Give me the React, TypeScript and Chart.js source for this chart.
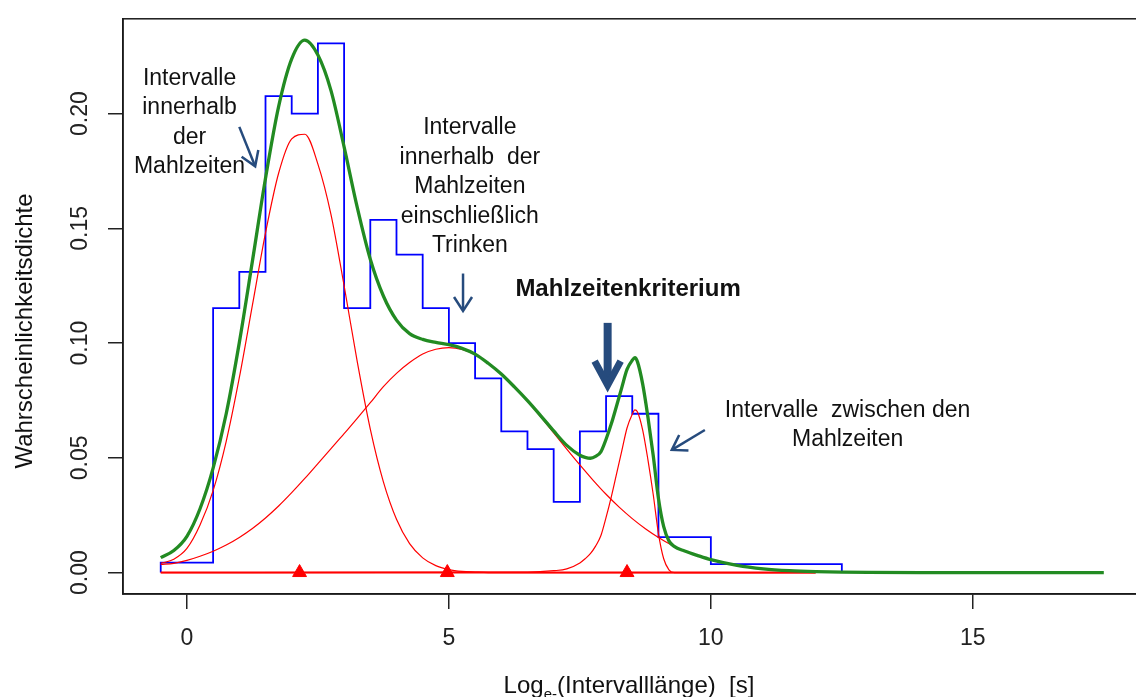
import { useEffect, useRef } from 'react';
import { Chart, registerables } from 'chart.js';

Chart.register(...registerables);

// Histogram of log-transformed interval lengths (bin edges and densities)
const histEdges = [-0.5, 0.5, 1.0, 1.5, 2.0, 2.5, 3.0, 3.5, 4.0, 4.5, 5.0, 5.5, 6.0, 6.5, 7.0, 7.5, 8.0, 8.5, 9.0, 10.0, 12.5];
const histDensity = [0.0043, 0.1152, 0.1310, 0.2076, 0.2000, 0.2306, 0.1152, 0.1537, 0.1385, 0.1152, 0.1000, 0.0846, 0.0615, 0.0538, 0.0308, 0.0615, 0.0769, 0.0692, 0.0154, 0.0037];

// Shared x grid for the first two mixture components
const componentX = [
  -0.5, -0.25, 0, 0.25, 0.5, 0.75, 1.0, 1.25, 1.5, 1.75, 2.0, 2.25, 2.5, 2.75, 3.0, 3.25, 3.5, 3.75,
  4.0, 4.25, 4.5, 4.75, 5.0, 5.25, 5.5, 5.75, 6.0, 6.25, 6.5, 6.75, 7.0, 7.25, 7.5, 7.75, 8.0, 8.25,
  8.5, 8.75, 9.0, 9.25, 9.5, 9.75, 10.0, 10.5, 11.0, 11.5, 12.0,
];
// Component 1: intervals within meals
const withinMeals = [
  0.0040, 0.0058, 0.0105, 0.0207, 0.0357, 0.0572, 0.0849, 0.1165, 0.1480, 0.1740, 0.1890, 0.1910, 0.1780, 0.1560, 0.1250, 0.0920, 0.0625, 0.0395,
  0.0232, 0.0126, 0.0064, 0.0030, 0.0013, 0.0005, 0.0002, 0, 0, 0, 0, 0, 0, 0, 0, 0, 0, 0,
  0, 0, 0, 0, 0, 0, 0, 0, 0, 0, 0,
];
// Component 2: intervals within meals including drinking
const withDrinking = [
  0.0035, 0.0040, 0.0053, 0.0071, 0.0093, 0.0120, 0.0153, 0.0192, 0.0238, 0.0290, 0.0348, 0.0410, 0.0475, 0.0540, 0.0605, 0.0672, 0.0740, 0.0810,
  0.0868, 0.0915, 0.0952, 0.0973, 0.0980, 0.0972, 0.0950, 0.0912, 0.0865, 0.0809, 0.0747, 0.0679, 0.0609, 0.0538, 0.0469, 0.0403, 0.0341, 0.0285,
  0.0235, 0.0191, 0.0153, 0.0120, 0.0094, 0.0072, 0.0055, 0.0030, 0.0015, 0.0008, 0.0004,
];
// Component 3: intervals between meals
const betweenX = [-0.5, 6.5, 7.0, 7.25, 7.5, 7.6, 7.7, 7.8, 7.9, 8.0, 8.1, 8.2, 8.3, 8.4, 8.5, 8.55, 8.6, 8.7, 8.8, 8.9, 9.0, 9.1, 9.2, 9.3, 12.0];
const betweenMeals = [0, 0.0002, 0.0008, 0.0016, 0.0042, 0.0060, 0.0082, 0.0115, 0.0160, 0.0240, 0.0330, 0.0430, 0.0530, 0.0630, 0.0690, 0.0709, 0.0700, 0.0620, 0.0490, 0.0340, 0.0170, 0.0060, 0.0012, 0, 0];

// Fitted mixture density
const mixtureX = [
  -0.5, -0.25, 0, 0.25, 0.5, 0.75, 1.0, 1.25, 1.5, 1.75, 2.0, 2.25, 2.5, 2.75, 3.0, 3.25, 3.5, 3.75,
  4.0, 4.25, 4.5, 4.75, 5.0, 5.25, 5.5, 5.75, 6.0, 6.25, 6.5, 6.75, 7.0, 7.25, 7.5,
  7.6, 7.7, 7.8, 7.9, 8.0, 8.1, 8.2, 8.3, 8.4, 8.5, 8.55, 8.6, 8.7, 8.8, 8.9, 9.0, 9.1, 9.2, 9.3,
  9.5, 9.75, 10.0, 10.5, 11.0, 11.5, 12.0, 12.5, 13.0, 14.0, 17.5,
];
const mixtureDensity = [
  0.0065, 0.0096, 0.0158, 0.0278, 0.0455, 0.0692, 0.1002, 0.1357, 0.1718, 0.2030, 0.2238, 0.2320, 0.2255, 0.2100, 0.1855, 0.1592, 0.1365, 0.1205,
  0.1100, 0.1041, 0.1016, 0.1003, 0.0993, 0.0977, 0.0952, 0.0912, 0.0865, 0.0809, 0.0749, 0.0684, 0.0617, 0.0554, 0.0511,
  0.0502, 0.0498, 0.0506, 0.0526, 0.0581, 0.0648, 0.0726, 0.0806, 0.0885, 0.0925, 0.0936, 0.0918, 0.0820, 0.0676, 0.0510, 0.0323, 0.0200, 0.0138, 0.0114,
  0.0094, 0.0074, 0.0056, 0.0031, 0.0016, 0.0008, 0.0004, 0.0002, 0.0001, 0, 0,
];

// Component means (triangles) and the zero line under the components
const componentMeans = [2.15, 4.97, 8.40];
const zeroLineX = [-0.5, 12.0];

const xTicks = [0, 5, 10, 15];
const yTicks = [0, 0.05, 0.1, 0.15, 0.2];

const FONT = '"Liberation Sans", Arial, Helvetica, sans-serif';
const ARROW = '#264b7d';

const notes = [
  { x: 0.05, y: 0.2125, lines: ['Intervalle', 'innerhalb', 'der', 'Mahlzeiten'], bold: false },
  { x: 5.40, y: 0.1909, lines: ['Intervalle', 'innerhalb  der', 'Mahlzeiten', 'einschließlich', 'Trinken'], bold: false },
  { x: 8.42, y: 0.1203, lines: ['Mahlzeitenkriterium'], bold: true },
  { x: 12.61, y: 0.0678, lines: ['Intervalle  zwischen den', 'Mahlzeiten'], bold: false },
];

const arrows = [
  { x1: 1.0, y1: 0.1942, x2: 1.317, y2: 0.1762, thick: false },
  { x1: 5.27, y1: 0.1303, x2: 5.27, y2: 0.1131, thick: false },
  { x1: 8.03, y1: 0.1088, x2: 8.03, y2: 0.0786, thick: true },
  { x1: 9.886, y1: 0.0621, x2: 9.222, y2: 0.0530, thick: false },
];

const pts = (xs: number[], ys: number[]) => xs.map((x, i) => ({ x, y: ys[i] }));

function drawArrow(ctx: CanvasRenderingContext2D, x1: number, y1: number, x2: number, y2: number, thick: boolean) {
  const dx = x2 - x1;
  const dy = y2 - y1;
  const len = Math.hypot(dx, dy);
  const ux = dx / len;
  const uy = dy / len;
  const nx = -uy;
  const ny = ux;
  const w = thick ? 7 : 2.5;
  const headLen = thick ? 24 : 14;
  const headHalf = thick ? 13 : 9;
  const inset = thick ? 7 : 2;
  const tx = x2 - ux * inset;
  const ty = y2 - uy * inset;
  ctx.strokeStyle = ARROW;
  ctx.lineCap = 'butt';
  ctx.lineJoin = 'miter';
  ctx.miterLimit = 10;
  ctx.lineWidth = thick ? 8 : w;
  ctx.beginPath();
  ctx.moveTo(x1, y1);
  ctx.lineTo(tx - ux * 2, ty - uy * 2);
  ctx.stroke();
  ctx.lineWidth = w;
  ctx.beginPath();
  ctx.moveTo(tx - ux * headLen + nx * headHalf, ty - uy * headLen + ny * headHalf);
  ctx.lineTo(tx, ty);
  ctx.lineTo(tx - ux * headLen - nx * headHalf, ty - uy * headLen - ny * headHalf);
  ctx.stroke();
}

const overlay = {
  id: 'overlay',
  afterDraw(chart: any) {
    const { ctx, chartArea: a, scales } = chart;
    const xs = scales.x;
    const ys = scales.y;
    ctx.save();

    // plot frame
    ctx.strokeStyle = '#1a1a1a';
    ctx.lineWidth = 1.5;
    ctx.strokeRect(a.left, a.top, a.right - a.left, a.bottom - a.top);

    // annotations
    ctx.fillStyle = '#111';
    ctx.textAlign = 'center';
    ctx.textBaseline = 'alphabetic';
    for (const n of notes) {
      ctx.font = n.bold ? `bold 24px ${FONT}` : `23px ${FONT}`;
      const cx = xs.getPixelForValue(n.x);
      const cy = ys.getPixelForValue(n.y);
      n.lines.forEach((line, i) => ctx.fillText(line, cx, cy + i * 29.5));
    }
    for (const ar of arrows) {
      drawArrow(ctx, xs.getPixelForValue(ar.x1), ys.getPixelForValue(ar.y1), xs.getPixelForValue(ar.x2), ys.getPixelForValue(ar.y2), ar.thick);
    }

    // y axis title
    ctx.fillStyle = '#111';
    ctx.font = `24px ${FONT}`;
    ctx.save();
    ctx.translate(25, 331);
    ctx.rotate(-Math.PI / 2);
    ctx.textAlign = 'center';
    ctx.textBaseline = 'middle';
    ctx.fillText('Wahrscheinlichkeitsdichte', 0, 0);
    ctx.restore();

    // x axis title with subscript
    const big = `24px ${FONT}`;
    const small = `15px ${FONT}`;
    const parts = [
      { t: 'Log', f: big, dy: 0 },
      { t: 'e-', f: small, dy: 6 },
      { t: '(Intervalllänge)  [s]', f: big, dy: 0 },
    ];
    let total = 0;
    for (const p of parts) { ctx.font = p.f; total += ctx.measureText(p.t).width; }
    let px = (a.left + a.right) / 2 - 3 - total / 2;
    const base = a.bottom + 99;
    ctx.textAlign = 'left';
    ctx.textBaseline = 'alphabetic';
    for (const p of parts) {
      ctx.font = p.f;
      ctx.fillText(p.t, px, base + p.dy);
      px += ctx.measureText(p.t).width;
    }
    ctx.restore();
  },
};

export default function App() {
  const ref = useRef<HTMLCanvasElement>(null);

  useEffect(() => {
    if (!ref.current) return;
    const histPoints = [
      { x: histEdges[0], y: 0 },
      ...histDensity.map((h, i) => ({ x: histEdges[i], y: h })),
      { x: histEdges[histEdges.length - 1], y: 0 },
    ];
    const red = '#ff0000';
    const chart = new Chart(ref.current, {
      type: 'line',
      data: {
        datasets: [
          {
            label: 'means',
            data: componentMeans.map((m) => ({ x: m, y: 0 })),
            showLine: false,
            pointStyle: 'triangle',
            pointRadius: 8,
            backgroundColor: red,
            borderColor: red,
            borderWidth: 1,
            order: 0,
          },
          {
            label: 'mixture',
            data: pts(mixtureX, mixtureDensity),
            borderColor: '#228b22',
            borderWidth: 3.3,
            pointRadius: 0,
            cubicInterpolationMode: 'monotone',
            order: 1,
          },
          {
            label: 'within meals',
            data: pts(componentX, withinMeals),
            borderColor: red,
            borderWidth: 1.2,
            pointRadius: 0,
            cubicInterpolationMode: 'monotone',
            order: 2,
          },
          {
            label: 'with drinking',
            data: pts(componentX, withDrinking),
            borderColor: red,
            borderWidth: 1.2,
            pointRadius: 0,
            cubicInterpolationMode: 'monotone',
            order: 2,
          },
          {
            label: 'between meals',
            data: pts(betweenX, betweenMeals),
            borderColor: red,
            borderWidth: 1.2,
            pointRadius: 0,
            cubicInterpolationMode: 'monotone',
            order: 2,
          },
          {
            label: 'zero',
            data: zeroLineX.map((x) => ({ x, y: 0 })),
            borderColor: red,
            borderWidth: 2,
            pointRadius: 0,
            order: 3,
          },
          {
            label: 'histogram',
            data: histPoints,
            borderColor: '#0000ff',
            borderWidth: 1.8,
            pointRadius: 0,
            stepped: 'before',
            order: 4,
          },
        ],
      },
      options: {
        responsive: false,
        devicePixelRatio: 1,
        animation: false,
        events: [],
        layout: { padding: { left: 0, top: 13, right: 3, bottom: 0 } },
        plugins: { legend: { display: false }, tooltip: { enabled: false } },
        scales: {
          x: {
            type: 'linear',
            min: -1.22,
            max: 18.21,
            afterBuildTicks: (s: any) => { s.ticks = xTicks.map((v) => ({ value: v })); },
            afterFit: (s: any) => { s.height = 103; },
            grid: { display: true, drawOnChartArea: false, drawTicks: true, tickLength: 15, color: '#222', lineWidth: 1.5 },
            border: { display: true, color: '#1a1a1a', width: 1.5 },
            ticks: { autoSkip: false, maxRotation: 0, padding: 16, color: '#222', font: { family: FONT, size: 23 } },
          },
          y: {
            type: 'linear',
            min: -0.00935,
            max: 0.2413,
            afterBuildTicks: (s: any) => { s.ticks = yTicks.map((v) => ({ value: v })); },
            afterFit: (s: any) => { s.width = 123; },
            grid: { display: true, drawOnChartArea: false, drawTicks: true, tickLength: 15, color: '#222', lineWidth: 1.5 },
            border: { display: true, color: '#1a1a1a', width: 1.5 },
            ticks: {
              autoSkip: false,
              minRotation: 90,
              maxRotation: 90,
              crossAlign: 'center',
              padding: 5,
              color: '#222',
              font: { family: FONT, size: 23 },
              callback: (v: any) => Number(v).toFixed(2),
            },
          },
        },
      },
      plugins: [overlay],
    } as any);
    return () => chart.destroy();
  }, []);

  return (
    <div style={{ position: 'absolute', left: 0, top: 0, width: 1136, height: 697, overflow: 'hidden', background: '#fff' }}>
      <canvas ref={ref} width={1150} height={697} style={{ display: 'block', width: 1150, height: 697 }} />
    </div>
  );
}
